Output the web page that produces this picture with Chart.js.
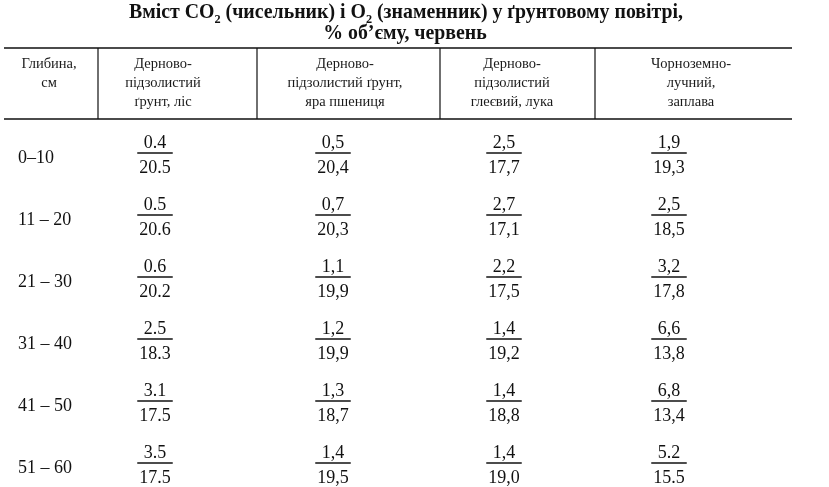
<!DOCTYPE html>
<html>
<head>
<meta charset="utf-8">
<script src="https://cdn.jsdelivr.net/npm/chart.js@4/dist/chart.umd.min.js"></script>
<style>
html,body{margin:0;padding:0;background:#fff;overflow:hidden}
#wrap{width:829px;height:487px;position:relative}
</style>
</head>
<body>
<div id="wrap"><canvas id="c"></canvas></div>
<script>
// ---------- DATA ----------
const titleLine1 = [['Вміст CO', 0], ['2', 1], [' (чисельник) і O', 0], ['2', 1], [' (знаменник) у ґрунтовому повітрі,', 0]];
const titleLine2 = '% об’єму, червень';
const depthHeader = ['Глибина,', 'см'];
const depths = ['0–10', '11 – 20', '21 – 30', '31 – 40', '41 – 50', '51 – 60'];
const soilHeaders = [
  ['Дерново-', 'підзолистий', 'ґрунт, ліс'],
  ['Дерново-', 'підзолистий ґрунт,', 'яра пшениця'],
  ['Дерново-', 'підзолистий', 'глеєвий, лука'],
  ['Чорноземно-', 'лучний,', 'заплава']
];
const co2Forest = [0.4, 0.5, 0.6, 2.5, 3.1, 3.5];
const o2Forest = [20.5, 20.6, 20.2, 18.3, 17.5, 17.5];
const co2Wheat = [0.5, 0.7, 1.1, 1.2, 1.3, 1.4];
const o2Wheat = [20.4, 20.3, 19.9, 19.9, 18.7, 19.5];
const co2Meadow = [2.5, 2.7, 2.2, 1.4, 1.4, 1.4];
const o2Meadow = [17.7, 17.1, 17.5, 19.2, 18.8, 19.0];
const co2Floodplain = [1.9, 2.5, 3.2, 6.6, 6.8, 5.2];
const o2Floodplain = [19.3, 18.5, 17.8, 13.8, 13.4, 15.5];
// decimal mark as printed in the source
const decimalMarks = [
  ['.', '.', '.', '.', '.', '.'],
  [',', ',', ',', ',', ',', ','],
  [',', ',', ',', ',', ',', ','],
  [',', ',', ',', ',', ',', '.']
];

// ---------- LAYOUT / STYLE ----------
const L = {
  W: 829, H: 487,
  ruleTop: 48, ruleHead: 119, ruleX0: 4, ruleX1: 792,
  sepX: [98, 257, 440, 595],
  headY: [64, 83, 102],
  depthHeadX: 49,
  headX: [163, 345, 512, 691],
  colX: [155, 333, 504, 669],
  depthX: 18,
  row0: 153, rowPitch: 62,
  t1: { cx: 406, cy: 13, w: 554 }, t2: { cx: 405, cy: 34 }
};
const ink = '#111';
const numFont = '18px "Liberation Serif"';
const headFont = '14.5px "Liberation Serif"';
const titleFont = 'bold 21px "Liberation Serif"';
const titleSubFont = 'bold 13px "Liberation Serif"';

const co2 = [co2Forest, co2Wheat, co2Meadow, co2Floodplain];
const o2 = [o2Forest, o2Wheat, o2Meadow, o2Floodplain];
const rowY = i => L.row0 + i * L.rowPitch;
const fmt = (v, m) => v.toFixed(1).replace('.', m);

const datasets = [{
  label: 'Глибина, см', kind: 'depth',
  data: depths.map((d, i) => ({ x: L.depthX, y: rowY(i) })),
  pointRadius: 0
}].concat(co2.map((arr, c) => ({
  label: soilHeaders[c].join(' '), kind: 'frac', col: c,
  data: arr.map((v, i) => ({ x: L.colX[c], y: rowY(i) })),
  pointRadius: 0
})));

const tablePlugin = {
  id: 'tablePlugin',
  afterDatasetsDraw(chart) {
    const ctx = chart.ctx, xs = chart.scales.x, ys = chart.scales.y;
    const px = v => xs.getPixelForValue(v), py = v => ys.getPixelForValue(v);
    ctx.save();
    ctx.fillStyle = ink; ctx.strokeStyle = ink;

    // title
    let total = 0;
    const widths = titleLine1.map(([t, s]) => { ctx.font = s ? titleSubFont : titleFont; const w = ctx.measureText(t).width; total += w; return w; });
    const sx = (px(L.t1.w) - px(0)) / total;
    ctx.save();
    ctx.translate(px(L.t1.cx) - total * sx / 2, py(L.t1.cy));
    ctx.scale(sx, 1);
    ctx.textBaseline = 'middle'; ctx.textAlign = 'left';
    let xx = 0;
    titleLine1.forEach(([t, s], i) => {
      ctx.font = s ? titleSubFont : titleFont;
      ctx.fillText(t, xx, s ? 7 : 0);
      xx += widths[i];
    });
    ctx.restore();
    ctx.save();
    ctx.font = titleFont;
    ctx.translate(px(L.t2.cx), py(L.t2.cy));
    ctx.scale(sx, 1);
    ctx.textAlign = 'center'; ctx.textBaseline = 'middle';
    ctx.fillText(titleLine2, 0, 0);
    ctx.restore();

    // rules
    ctx.lineWidth = 1.5;
    ctx.beginPath();
    ctx.moveTo(px(L.ruleX0), py(L.ruleTop)); ctx.lineTo(px(L.ruleX1), py(L.ruleTop));
    ctx.moveTo(px(L.ruleX0), py(L.ruleHead)); ctx.lineTo(px(L.ruleX1), py(L.ruleHead));
    ctx.stroke();
    ctx.lineWidth = 1.2;
    ctx.beginPath();
    L.sepX.forEach(x => { ctx.moveTo(px(x), py(L.ruleTop)); ctx.lineTo(px(x), py(L.ruleHead)); });
    ctx.stroke();

    // headers
    ctx.font = headFont; ctx.fillStyle = '#1a1a1a';
    ctx.textAlign = 'center'; ctx.textBaseline = 'middle';
    depthHeader.forEach((t, i) => ctx.fillText(t, px(L.depthHeadX), py(L.headY[i])));
    soilHeaders.forEach((lines, c) => lines.forEach((t, i) => ctx.fillText(t, px(L.headX[c]), py(L.headY[i]))));

    // cells
    ctx.fillStyle = ink;
    ctx.font = numFont;
    chart.data.datasets.forEach((ds, di) => {
      const meta = chart.getDatasetMeta(di);
      meta.data.forEach((el, i) => {
        const x = el.x, y = el.y;
        if (ds.kind === 'depth') {
          ctx.textAlign = 'left'; ctx.textBaseline = 'alphabetic';
          ctx.fillText(depths[i], x, y + 10);
        } else {
          const c = ds.col;
          const top = fmt(co2[c][i], decimalMarks[c][i]);
          const bot = fmt(o2[c][i], decimalMarks[c][i]);
          ctx.textAlign = 'center'; ctx.textBaseline = 'alphabetic';
          ctx.fillText(top, x, y - 5);
          ctx.fillText(bot, x, y + 20);
          const w = Math.max(ctx.measureText(top).width, ctx.measureText(bot).width) + 4;
          ctx.lineWidth = 1.3;
          ctx.beginPath();
          ctx.moveTo(x - w / 2, y); ctx.lineTo(x + w / 2, y);
          ctx.stroke();
        }
      });
    });
    ctx.restore();
  }
};

new Chart(document.getElementById('c'), {
  type: 'scatter',
  data: { datasets },
  options: {
    responsive: true, maintainAspectRatio: false, animation: false,
    layout: { padding: 0 },
    plugins: { legend: { display: false }, tooltip: { enabled: false }, title: { display: false } },
    scales: {
      x: { type: 'linear', min: 0, max: L.W, display: false },
      y: { type: 'linear', min: 0, max: L.H, reverse: true, display: false }
    }
  },
  plugins: [tablePlugin]
});
</script>
</body>
</html>
